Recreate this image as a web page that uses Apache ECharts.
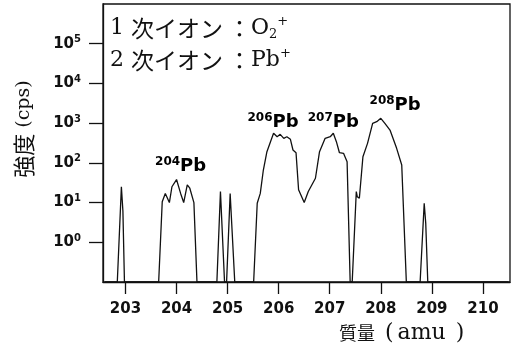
<!DOCTYPE html>
<html>
<head>
    <meta charset="UTF-8">
    <title></title>
    <script type="text/javascript" src="https://cdn.jsdelivr.net/npm/echarts@6/dist/echarts.min.js"></script>
</head>
<body style="margin:0">

<div id="mainPb" style="height: 351px; width: 514px;"></div>
<script type="text/javascript">

    // 質量スペクトル (Pb, 1次イオン O2+)
    var massValues = [202.60, 202.84, 202.92, 202.95, 202.98,
        203.65, 203.72, 203.78, 203.86, 203.91, 204.00, 204.08, 204.14, 204.21, 204.26, 204.34, 204.40,
        204.79, 204.86, 204.94, 204.98, 205.05, 205.14,
        205.51, 205.58, 205.64, 205.70, 205.77, 205.84, 205.90, 205.97, 206.03, 206.10, 206.16, 206.23, 206.28, 206.34, 206.39,
        206.50, 206.58, 206.72, 206.80, 206.91, 207.01, 207.07, 207.13, 207.19, 207.27, 207.34, 207.40,
        207.44, 207.52, 207.54, 207.58, 207.65, 207.74, 207.84, 207.92, 208.00, 208.08, 208.18, 208.31, 208.41, 208.50,
        208.77, 208.85, 208.88, 208.92, 210.50];
    var cpsValues = [0.1, 0.1, 25, 6, 0.1,
        0.1, 10.5, 17, 10, 25, 38, 17, 10, 28, 23, 10, 0.1,
        0.1, 19, 0.1, 0.1, 17, 0.1,
        0.1, 9.6, 17, 66, 191, 341, 555, 455, 523, 415, 455, 392, 211, 180, 21,
        10, 19, 41, 191, 415, 455, 555, 341, 180, 174, 107, 0.1,
        0.1, 19, 14, 12.8, 143, 310, 990, 1087, 1324, 990, 671, 232, 88, 0.1,
        0.1, 9.6, 3, 0.1, 0.1];

    // ピーク名
    var peakIsotopes = ['204', '206', '207', '208'];
    var peakMass = [204.08, 205.89, 207.07, 208.28];
    var peakCps = [83, 1070, 1070, 2870];

    // 目盛
    var massTicks = [203, 204, 205, 206, 207, 208, 209, 210];
    var cpsTicks = [1, 10, 100, 1000, 10000, 100000];

    var lineData = [];
    for (var i = 0; i < massValues.length; i++) {
        lineData.push([massValues[i], cpsValues[i]]);
    }
    var peakData = [];
    for (var j = 0; j < peakMass.length; j++) {
        peakData.push({value: [peakMass[j], peakCps[j]], iso: peakIsotopes[j]});
    }

    var myChartPb = echarts.init(document.getElementById('mainPb'));

    var ink = '#111';
    var serif = '"DejaVu Serif", serif';
    var cjk = '"Noto Sans CJK JP", sans-serif';

    // 凡例の文字スタイル
    var legendRich = {
        n: {fontFamily: serif, fontSize: 22, lineHeight: 26, fill: ink},
        k: {fontFamily: cjk, fontSize: 23, lineHeight: 26, fill: ink},
        c: {fontFamily: cjk, fontSize: 23, lineHeight: 26, fill: ink, padding: [0, 0, 0, 5]},
        o: {fontFamily: serif, fontSize: 22, lineHeight: 26, fill: ink},
        sub: {fontFamily: serif, fontSize: 13, lineHeight: 13, verticalAlign: 'bottom', fill: ink},
        sup: {fontFamily: serif, fontSize: 13, lineHeight: 13, verticalAlign: 'top', fill: ink}
    };

    option = {
        animation: false,
        backgroundColor: '#fff',
        grid: {
            left: 103,
            right: 4,
            top: 4,
            bottom: 69,
            show: true,
            borderColor: ink,
            borderWidth: 1.3
        },
        xAxis: {
            type: 'value',
            min: 202.56,
            max: 210.53,
            splitLine: {show: false},
            axisLine: {onZero: false, lineStyle: {color: ink, width: 1.3}},
            axisTick: {
                customValues: massTicks,
                length: 12,
                lineStyle: {color: ink, width: 1.3}
            },
            axisLabel: {
                customValues: massTicks,
                margin: 20,
                color: ink,
                fontFamily: 'DejaVu Sans',
                fontWeight: 'bold',
                fontSize: 15
            }
        },
        yAxis: {
            type: 'log',
            logBase: 10,
            min: 0.1,
            max: 1000000,
            splitLine: {show: false},
            minorTick: {show: false},
            axisLine: {lineStyle: {color: ink, width: 1.3}},
            axisTick: {
                customValues: cpsTicks,
                length: 14,
                lineStyle: {color: ink, width: 1.3}
            },
            axisLabel: {
                customValues: cpsTicks,
                margin: 22,
                color: ink,
                formatter: function (v) {
                    return '{b|10}{s|' + Math.round(Math.log10(v)) + '}';
                },
                rich: {
                    b: {fontFamily: 'DejaVu Sans', fontWeight: 'bold', fontSize: 15, lineHeight: 18, color: ink},
                    s: {fontFamily: 'DejaVu Sans', fontWeight: 'bold', fontSize: 10, lineHeight: 10, verticalAlign: 'top', color: ink}
                }
            }
        },
        series: [{
            name: 'Pb',
            type: 'line',
            data: lineData,
            symbol: 'none',
            lineStyle: {color: ink, width: 1.3},
            silent: true
        }, {
            name: 'peaks',
            type: 'scatter',
            data: peakData,
            symbolSize: 0,
            itemStyle: {opacity: 1},
            silent: true,
            label: {
                show: true,
                position: 'inside',
                formatter: function (p) {
                    return '{sup|' + p.data.iso + '}{pb|Pb}';
                },
                rich: {
                    sup: {fontFamily: 'DejaVu Sans', fontWeight: 'bold', fontSize: 12, lineHeight: 12, verticalAlign: 'top', color: '#000'},
                    pb: {fontFamily: 'DejaVu Sans', fontWeight: 'bold', fontSize: 18, lineHeight: 20, color: '#000'}
                }
            }
        }],
        graphic: [{
            type: 'text',
            left: 110,
            top: 15,
            style: {
                text: '{n|1 }{k|次イオン}{c|：}{o|O}{sub|2}{sup|+}',
                rich: legendRich
            }
        }, {
            type: 'text',
            left: 110,
            top: 47,
            style: {
                text: '{n|2 }{k|次イオン}{c|：}{o|Pb}{sup|+}',
                rich: legendRich
            }
        }, {
            type: 'text',
            x: 24,
            y: 129,
            rotation: Math.PI / 2,
            style: {
                text: '{k|強度}{m|(cps)}',
                align: 'center',
                verticalAlign: 'middle',
                rich: {
                    k: {fontFamily: cjk, fontSize: 22, lineHeight: 24, fill: ink, padding: [0, 6, 0, 0]},
                    m: {fontFamily: serif, fontSize: 19, lineHeight: 24, fill: ink}
                }
            }
        }, {
            type: 'text',
            x: 339,
            y: 333,
            style: {
                text: '{k|質量}{p|(}{m|amu}{p|)}',
                align: 'left',
                verticalAlign: 'middle',
                rich: {
                    k: {fontFamily: cjk, fontSize: 18, lineHeight: 24, fill: ink, padding: [0, 10, 0, 0]},
                    p: {fontFamily: serif, fontSize: 22, lineHeight: 24, fill: ink},
                    m: {fontFamily: serif, fontSize: 22, lineHeight: 24, fill: ink, padding: [0, 10, 0, 4]}
                }
            }
        }]
    };

    myChartPb.setOption(option);

</script>

</body>
</html>
